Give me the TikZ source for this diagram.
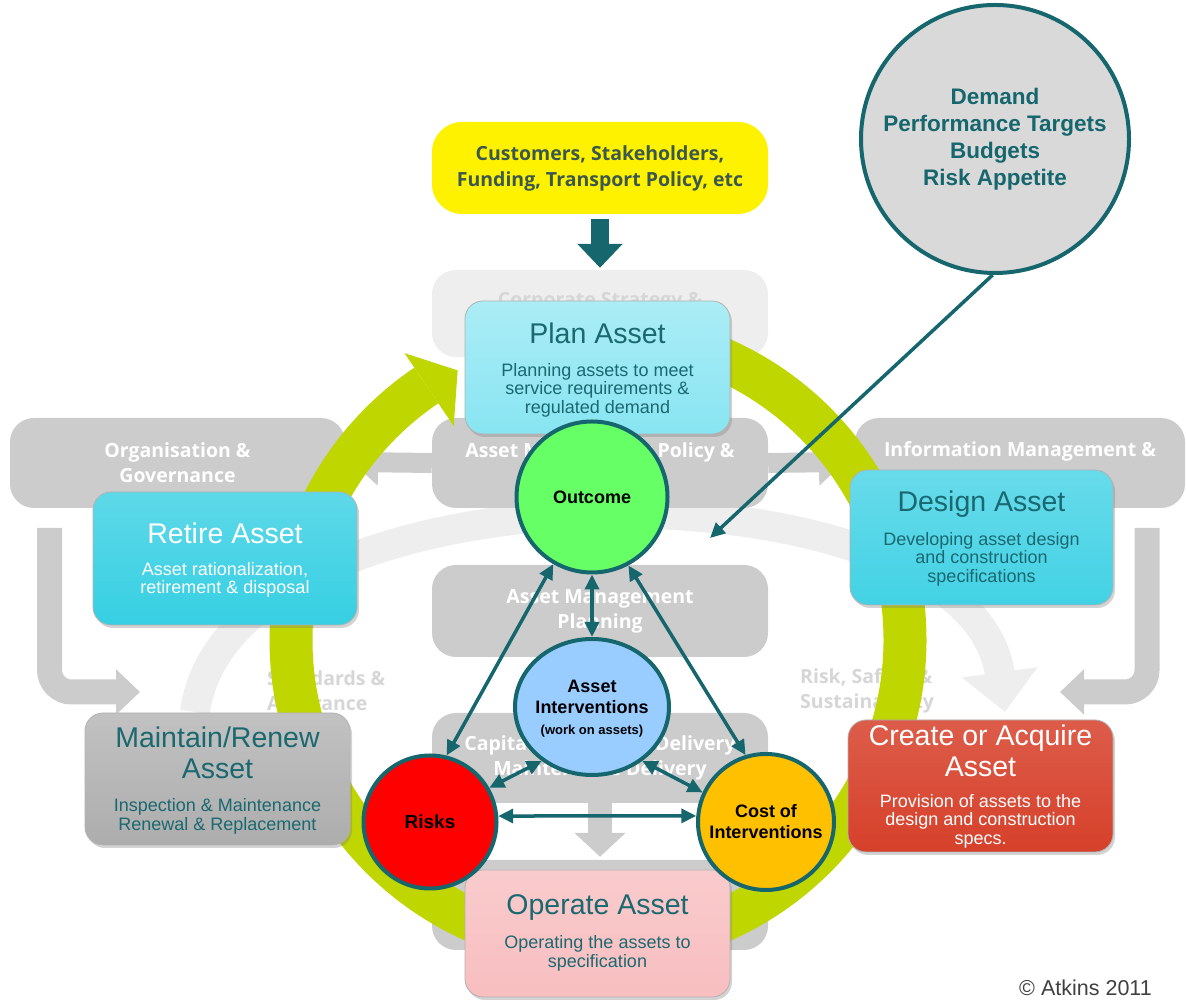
\documentclass[tikz,border=0pt]{standalone}
\usepackage{fontspec}
\setmainfont{Liberation Sans}
\newfontfamily\bgfont{Open Sans}
\usetikzlibrary{arrows.meta,shadows,shapes.geometric}

\definecolor{ringgreen}{RGB}{191,214,0}
\definecolor{linkteal}{RGB}{22,102,110}
\definecolor{stageteal}{RGB}{26,104,112}
\definecolor{bggrey}{RGB}{204,204,204}
\definecolor{bglight}{RGB}{238,238,238}
\definecolor{bgtext}{RGB}{214,214,214}
\definecolor{custyellow}{RGB}{255,242,0}
\definecolor{custtext}{RGB}{58,88,78}
\definecolor{planfill}{RGB}{136,229,242}
\definecolor{designfill}{RGB}{66,210,229}
\definecolor{createfill}{RGB}{214,64,42}
\definecolor{operatefill}{RGB}{248,190,192}
\definecolor{maintainfill}{RGB}{173,173,173}
\definecolor{retirefill}{RGB}{54,207,227}
\definecolor{outcomefill}{RGB}{102,255,102}
\definecolor{interfill}{RGB}{153,204,255}
\definecolor{costfill}{RGB}{255,192,0}
\definecolor{demandfill}{RGB}{217,217,217}

\tikzset{
  bgbox/.style={fill=bggrey, rounded corners=24, minimum width=336, minimum height=90, inner sep=0,
    font=\bgfont\bfseries\fontsize{19.5}{25}\selectfont, text=white, align=center},
  bglabel/.style={font=\bgfont\bfseries\fontsize{19.5}{25}\selectfont, text=white, align=center, inner sep=0},
  stage/.style={rounded corners=18, minimum width=265, minimum height=133, inner sep=0,
    draw=black!30, line width=0.8,
    drop shadow={shadow xshift=2pt, shadow yshift=-3pt, opacity=0.35}},
  stagetitle/.style={font=\fontsize{28.5}{31}\selectfont, text=stageteal, align=center, inner sep=0},
  stagesub/.style={font=\fontsize{18}{18.5}\selectfont, text=stageteal, align=center, inner sep=0},
  hub/.style={circle, draw=linkteal, line width=4, inner sep=0,
    font=\bfseries\fontsize{18}{21}\selectfont, align=center},
  link/.style={draw=linkteal, line width=3.5,
    {Triangle[length=15pt,width=14pt]}-{Triangle[length=15pt,width=14pt]}},
  pointer/.style={draw=linkteal, line width=3.5, -{Triangle[length=15pt,width=14pt]}},
}

\begin{document}
\begin{tikzpicture}[x=1pt,y=1pt]
    %%%%% START %%%%%
    \useasboundingbox (0,0) rectangle (1186,1000);

    % faded background of the framework
    \draw[bglight, line width=30, -{Triangle[width=74pt,length=40pt]}] (195,288) .. controls (230,546) and (970,546) .. (1005,288);
    \draw[bggrey, line width=25, rounded corners=22, -{Triangle[width=44pt,length=24pt]}] (49.5,472) -- (49.5,308) -- (140,308);
    \draw[bggrey, line width=25, rounded corners=22, -{Triangle[width=44pt,length=24pt]}] (1147,472) -- (1147,308) -- (1060,308);

    \node[bgbox, fill=bglight, minimum height=87] (corporate) at (600,686.5) {};
    \node[bglabel, text=bgtext] (corporatetext) at (600,698) {Corporate Strategy \&};
    \node[bgbox] (policy) at (600,537) {};
    \node[bglabel] (policytext) at (600,548) {Asset Management Policy \&};
    \node[bgbox, minimum width=335] (organisation) at (177.5,537) {Organisation \&\\Governance};
    \node[bgbox, minimum width=330] (information) at (1020,537) {};
    \node[bglabel] (informationtext) at (1020,549) {Information Management \&};
    \node[bgbox, minimum height=92] (planning) at (600,389) {Asset Management\\Planning};
    \node[bgbox] (capital) at (600,242) {Capital Investment Delivery\\Maintenance Delivery};
    \node[bgbox] (monitor) at (600,95) {};

    \draw[bggrey, line width=20, -{Triangle[width=45pt,length=26pt]}] (policy.west) -- (352,538);
    \draw[bggrey, line width=20, -{Triangle[width=45pt,length=26pt]}] (policy.east) -- (845,538);
    \draw[bggrey, line width=24, -{Triangle[width=50pt,length=24pt]}, shorten >=3pt] (capital) -- (monitor);

    \node[bglabel, text=bgtext, align=left, anchor=west] (standards) at (267,309.5) {Standards \&\\Assurance};
    \node[bglabel, text=bgtext, align=left, anchor=west] (riskssafety) at (800,309.5) {Risk, Safety \&\\Sustainability};

    % external drivers
    \node[fill=custyellow, rounded corners=30, minimum width=336, minimum height=92, align=center,
      font=\bgfont\bfseries\fontsize{19.5}{26}\selectfont, text=custtext] (customers) at (600,832)
      {Customers, Stakeholders,\\Funding, Transport Policy, etc};
    \draw[linkteal, line width=18, -{Triangle[width=44pt,length=24pt]}, shorten <=5pt, shorten >=2pt] (customers) -- (corporate);

    % life cycle ring
    \coordinate (ringc) at (598,360);
    \draw[ringgreen, line width=43] ([shift={(88:307)}]ringc) arc[start angle=88, end angle=-236, radius=307];
    \fill[ringgreen] ([shift={(124:258)}]ringc) -- ([shift={(117.5:304)}]ringc) -- ([shift={(124:346)}]ringc) -- cycle;

    % life cycle stages
    \node[stage, top color=planfill!70!white, bottom color=planfill] (plan) at (597.5,632.5) {};
    \node[stagetitle] (plantitle) at (597.5,667) {Plan Asset};
    \node[stagesub] (plansub) at (597.5,610) {Planning assets to meet\\service requirements \&\\regulated demand};

    \node[stage, top color=designfill!80!white, bottom color=designfill, minimum width=263, minimum height=135] (design) at (981.5,462.5) {};
    \node[stagetitle] (designtitle) at (981.5,496) {Design Asset};
    \node[stagesub] (designsub) at (981.5,441) {Developing asset design\\and construction\\specifications};

    \node[stage, top color=createfill!85!white, bottom color=createfill, minimum height=132] (create) at (980.5,214) {};
    \node[stagetitle, text=white] (createtitle) at (980.5,249.5) {Create or Acquire\\Asset};
    \node[stagesub, text=white] (createsub) at (980.5,179) {Provision of assets to the\\design and construction\\specs.};

    \node[stage, top color=operatefill!80!white, bottom color=operatefill, minimum height=127] (operate) at (597.5,66.5) {};
    \node[stagetitle] (operatetitle) at (597.5,92.5) {Operate Asset};
    \node[stagesub] (operatesub) at (597.5,46.5) {Operating the assets to\\specification};

    \node[stage, top color=maintainfill!75!white, bottom color=maintainfill, minimum height=132] (maintain) at (217.5,221) {};
    \node[stagetitle] (maintaintitle) at (217.5,247.5) {Maintain/Renew\\Asset};
    \node[stagesub] (maintainsub) at (217.5,183.5) {Inspection \& Maintenance\\Renewal \& Replacement};

    \node[stage, top color=retirefill!80!white, bottom color=retirefill, minimum width=264] (retire) at (225,441.5) {};
    \node[stagetitle, text=white] (retiretitle) at (225,467) {Retire Asset};
    \node[stagesub, text=white] (retiresub) at (225,420) {Asset rationalization,\\retirement \& disposal};

    % decision triangle
    \node[hub, fill=outcomefill, minimum size=151] (outcome) at (592,503) {Outcome};
    \node[hub, ellipse, fill=interfill, minimum width=154, minimum height=136] (inter) at (592,293) {};
    \node[font=\bfseries\fontsize{18}{21}\selectfont, align=center, inner sep=0] (intertext) at (592,291.5)
      {Asset\\Interventions\\{\fontsize{13}{14}\selectfont (work on assets)}};
    \node[hub, fill=red, minimum size=133, font=\bfseries\fontsize{19}{21}\selectfont] (risks) at (430,178) {Risks};
    \node[hub, fill=costfill, minimum size=136] (cost) at (766,178) {Cost of\\Interventions};

    \draw[link] (outcome.-90) -- (inter.north);
    \draw[link] (outcome.-120) -- (risks.76);
    \draw[link] (outcome.-62) -- (cost.107);
    \draw[link] (inter.-133) -- (risks.30);
    \draw[link] (inter.-47) -- (cost.155);
    \draw[link] (risks.5) -- (cost.175);

    % targets bubble
    \node[hub, fill=demandfill, minimum size=268, text=linkteal, font=\bfseries\fontsize{22.5}{27}\selectfont] (demand) at (995,861)
      {Demand\\Performance Targets\\Budgets\\Risk Appetite};
    \coordinate (target) at (710,462);
    \draw[pointer] (demand.-91) -- (target);

    \node[font=\fontsize{21.5}{23}\selectfont, text=black!75, anchor=east, inner sep=0] (credit) at (1152,12) {\textcopyright\ Atkins 2011};
    %%%%% END %%%%%
\end{tikzpicture}
\end{document}
